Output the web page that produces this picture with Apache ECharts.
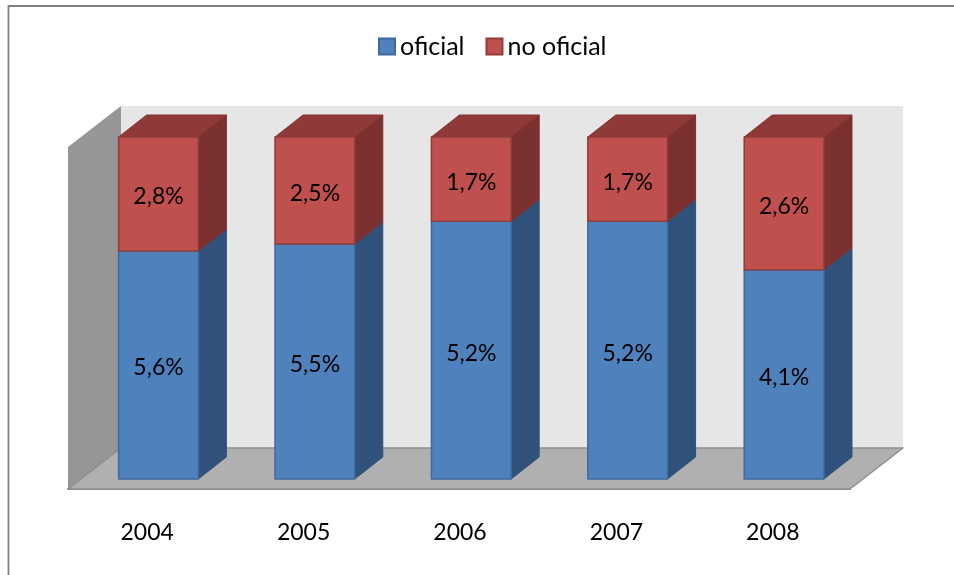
<!DOCTYPE html>
<html>
<head>
<meta charset="utf-8">
<style>html,body{margin:0;padding:0;background:#fff;overflow:hidden}#c{width:954px;height:575px}</style>
<script src="https://cdn.jsdelivr.net/npm/echarts@6/dist/echarts.min.js"></script>
</head>
<body>
<div id="c"></div>
<script>
var categories = ['2004', '2005', '2006', '2007', '2008'];
var oficial = [5.6, 5.5, 5.2, 5.2, 4.1];
var noOficial = [2.8, 2.5, 1.7, 1.7, 2.6];

var FONT = 'Lato, "Open Sans", sans-serif';
var WALL_DX = 53, WALL_DY = -41;     // full depth of the chart box
var BAR_DX = 28, BAR_DY = -22;       // depth of each bar
var FRONT_DX = 12.3, FRONT_DY = -10; // gap from the front edge of the box to the bar
var BAR_RATIO = 0.51;

function fmt(v) { return v.toFixed(1).replace('.', ',') + '%'; }
function poly(points, fill, stroke, lw) {
  return { type: 'polygon', shape: { points: points },
    style: { fill: fill, stroke: stroke || null, lineWidth: lw || 0, lineJoin: 'round' } };
}
function barSeries(name, values, base, colors) {
  return {
    name: name, type: 'custom', z: 3,
    itemStyle: { color: colors.front, borderColor: colors.edge, borderWidth: 1.5 },
    data: values.map(function (v, i) { return [i, v]; }),
    encode: { x: 0, y: 1 },
    renderItem: function (params, api) {
      var i = api.value(0), v = api.value(1);
      var lowV = base ? base[i] : 0;
      var total = oficial[i] + noOficial[i];
      var p0 = api.coord([i, lowV / total * 100]);
      var p1 = api.coord([i, (lowV + v) / total * 100]);
      var w = api.size([1, 0])[0] * BAR_RATIO;
      var xL = p0[0] + FRONT_DX - w / 2, xR = xL + w;
      var yB = p0[1] + FRONT_DY, yT = p1[1] + FRONT_DY;
      var children = [
        poly([[xR, yB], [xR + BAR_DX, yB + BAR_DY], [xR + BAR_DX, yT + BAR_DY], [xR, yT]], colors.side, colors.side, 1)
      ];
      if (base) {
        children.push(poly([[xL, yT], [xR, yT], [xR + BAR_DX, yT + BAR_DY], [xL + BAR_DX, yT + BAR_DY]], colors.top, colors.topEdge, 1));
      }
      children.push(poly([[xL, yB], [xR, yB], [xR, yT], [xL, yT]], colors.front, colors.edge, 1.5));
      children.push({
        type: 'text', x: (xL + xR) / 2, y: (yB + yT) / 2 + 3,
        style: { text: fmt(v), font: '23px ' + FONT, fill: '#000', align: 'center', verticalAlign: 'middle' }
      });
      return { type: 'group', children: children };
    }
  };
}
var wallSeries = {
  name: 'box', type: 'custom', z: 1, silent: true,
  data: [[0, 0]],
  encode: { x: 0, y: 1 },
  renderItem: function (params, api) {
    var half = api.size([1, 0])[0] / 2;
    var a = api.coord([0, 0]), b = api.coord([categories.length - 1, 100]);
    var x0 = a[0] - half, x1 = b[0] + half, y0 = a[1], y1 = b[1];
    return { type: 'group', children: [
      poly([[x0 + WALL_DX, y0 + WALL_DY], [x1 + WALL_DX, y0 + WALL_DY], [x1 + WALL_DX, y1 + WALL_DY], [x0 + WALL_DX, y1 + WALL_DY]], '#e6e6e6'),
      poly([[x0, y0], [x0 + WALL_DX, y0 + WALL_DY], [x0 + WALL_DX, y1 + WALL_DY], [x0, y1]], '#969696'),
      poly([[x0, y0], [x1, y0], [x1 + WALL_DX, y0 + WALL_DY], [x0 + WALL_DX, y0 + WALL_DY]], '#b0b0b0', '#8e8e8e', 1.5)
    ] };
  }
};

var chart = echarts.init(document.getElementById('c'), null, { renderer: 'canvas' });
chart.setOption({
  animation: false,
  backgroundColor: '#fff',
  graphic: [{ type: 'rect', z: 0, shape: { x: 8.5, y: 6, width: 1000, height: 700 },
    style: { fill: 'none', stroke: '#808080', lineWidth: 1.8 } }],
  legend: {
    left: 378, top: 34, padding: 0, itemWidth: 16, itemHeight: 16, itemGap: 21,
    icon: 'rect', data: ['oficial', 'no oficial'],
    textStyle: { fontFamily: FONT, fontSize: 25, color: '#000' }
  },
  grid: { left: 68, right: 104, top: 147, bottom: 86 },
  xAxis: {
    type: 'category', data: categories,
    axisLine: { show: true, lineStyle: { color: '#8a8a8a', width: 2 } },
    axisTick: { show: false },
    axisLabel: { margin: 32, padding: [0, 0, 0, 2], fontFamily: FONT, fontSize: 23, color: '#000' },
    splitLine: { show: false }
  },
  yAxis: { type: 'value', min: 0, max: 100, show: false, splitLine: { show: false } },
  series: [
    wallSeries,
    barSeries('oficial', oficial, null, { front: '#4f81bd', edge: '#3f6a9e', side: '#30527a' }),
    barSeries('no oficial', noOficial, oficial, { front: '#c0504d', edge: '#8f3c3a', side: '#7a302e', top: '#8f3a38', topEdge: '#833432' })
  ]
});
</script>
</body>
</html>
